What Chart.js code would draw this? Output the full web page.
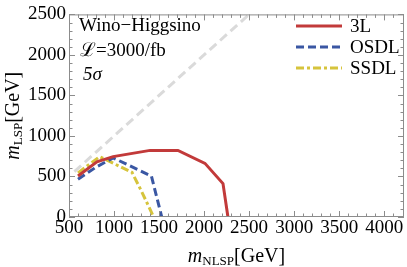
<!DOCTYPE html>
<html>
<head>
  <meta charset="UTF-8">
  <title>Wino-Higgsino 5 sigma reach</title>
  <script src="https://cdn.jsdelivr.net/npm/chart.js"></script>
  <style>
    body { margin: 0; padding: 0; background: #fff; }
    canvas { display: block; }
  </style>
</head>
<body>
<canvas id="reach" width="407" height="267"></canvas>
<script>
  // values (GeV)
  const x3L = [600, 810, 990, 1400, 1710, 2010, 2210, 2265];
  const y3L = [505, 680, 745, 822, 822, 662, 412, 0];
  const xOSDL = [600, 800, 990, 1415, 1530];
  const yOSDL = [465, 615, 730, 505, 0];
  const xSSDL = [600, 840, 1200, 1300, 1440];
  const ySSDL = [545, 745, 550, 330, 0];
  const xDiag = [560, 2600];
  const yDiag = [560, 2600];

  const xMin = 500, xMax = 4220;
  const yMin = 0, yMax = 2500;
  const labelTexts = ["Wino\u2212Higgsino", "\u2112=3000/fb", "5\u03c3"];

  const SERIF = '"Liberation Serif", "Times New Roman", serif';
  const toPts = (xs, ys) => xs.map((x, i) => ({ x: x, y: ys[i] }));

  // frame + inward ticks on all four sides, like Mathematica
  const frameTicks = {
    id: 'frameTicks',
    afterDatasetsDraw(chart) {
      const { ctx, chartArea: a, scales } = chart;
      ctx.save();
      ctx.strokeStyle = '#8c8c8c';
      ctx.lineWidth = 1;
      ctx.strokeRect(a.left + 0.5, a.top + 0.5, a.right - a.left - 1, a.bottom - a.top - 1);
      ctx.beginPath();
      scales.x.ticks.forEach(t => {
        if (t.value > xMax - 1) return;
        const px = Math.round(scales.x.getPixelForValue(t.value)) + 0.5;
        const len = t.value % 500 === 0 ? 6 : 3.5;
        ctx.moveTo(px, a.bottom); ctx.lineTo(px, a.bottom - len);
        ctx.moveTo(px, a.top); ctx.lineTo(px, a.top + len);
      });
      scales.y.ticks.forEach(t => {
        const py = Math.round(scales.y.getPixelForValue(t.value)) + 0.5;
        const len = t.value % 500 === 0 ? 6 : 3.5;
        ctx.moveTo(a.left, py); ctx.lineTo(a.left + len, py);
        ctx.moveTo(a.right, py); ctx.lineTo(a.right - len, py);
      });
      ctx.stroke();
      ctx.restore();
    }
  };

  // axis titles, annotation text and legend
  const texts = {
    id: 'texts',
    afterDraw(chart) {
      const { ctx, chartArea: a } = chart;
      ctx.save();
      ctx.fillStyle = '#000';
      ctx.textBaseline = 'alphabetic';

      // top-left annotation
      ctx.font = '19px ' + SERIF;
      ctx.textAlign = 'left';
      ctx.fillText(labelTexts[0], 79, 31);
      ctx.fillText(labelTexts[1], 80, 56);
      ctx.font = 'italic 19px ' + SERIF;
      ctx.fillText('5', 83, 80);
      ctx.fillText('\u03c3', 83 + ctx.measureText('5').width, 80);

      // legend
      const ds = chart.data.datasets.filter(d => d.label);
      ds.forEach((d, i) => {
        const y = 26 + i * 21;
        ctx.save();
        ctx.strokeStyle = d.borderColor;
        ctx.lineWidth = d.borderWidth;
        ctx.setLineDash(d.borderDash || []);
        ctx.beginPath();
        ctx.moveTo(296, y); ctx.lineTo(342, y);
        ctx.stroke();
        ctx.restore();
        ctx.font = '19px ' + SERIF;
        ctx.fillText(d.label, 350, y + 6);
      });

      // axis title helper: italic m, small-caps subscript, [GeV]
      function title(sub, cx, baseY) {
        ctx.font = 'italic 20px ' + SERIF;
        const wm = ctx.measureText('m').width;
        ctx.font = '13px ' + SERIF;
        const ws = ctx.measureText(sub).width;
        ctx.font = '20px ' + SERIF;
        const wg = ctx.measureText('[GeV]').width;
        let x = cx - (wm + ws + wg) / 2;
        ctx.textAlign = 'left';
        ctx.font = 'italic 20px ' + SERIF;
        ctx.fillText('m', x, baseY); x += wm;
        ctx.font = '13px ' + SERIF;
        ctx.fillText(sub, x, baseY + 3); x += ws;
        ctx.font = '20px ' + SERIF;
        ctx.fillText('[GeV]', x, baseY);
      }
      title('NLSP', (a.left + a.right) / 2, 262);
      ctx.save();
      ctx.translate(19, (a.top + a.bottom) / 2);
      ctx.rotate(-Math.PI / 2);
      title('LSP', 0, 0);
      ctx.restore();
      ctx.restore();
    }
  };

  new Chart(document.getElementById('reach'), {
    type: 'line',
    data: {
      datasets: [
        {
          data: toPts(xDiag, yDiag),
          borderColor: '#dadada',
          borderWidth: 3,
          borderDash: [9, 5]
        },
        {
          label: '3L',
          data: toPts(x3L, y3L),
          borderColor: '#c23a3a',
          borderWidth: 3
        },
        {
          label: 'OSDL',
          data: toPts(xOSDL, yOSDL),
          borderColor: '#3a57a3',
          borderWidth: 3,
          borderDash: [8, 4]
        },
        {
          label: 'SSDL',
          data: toPts(xSSDL, ySSDL),
          borderColor: '#d6c43c',
          borderWidth: 3,
          borderDash: [8, 3, 3, 3]
        }
      ]
    },
    options: {
      responsive: false,
      animation: false,
      devicePixelRatio: 1,
      layout: { padding: { left: 0, right: 3, top: 11, bottom: 0 } },
      elements: { point: { radius: 0 }, line: { tension: 0 } },
      plugins: { legend: { display: false }, tooltip: { enabled: false } },
      scales: {
        x: {
          type: 'linear',
          min: xMin,
          max: xMax,
          grid: { display: false, drawTicks: false },
          border: { display: false },
          afterFit: s => { s.height = 50; },
          ticks: {
            stepSize: 100,
            autoSkip: false,
            maxRotation: 0,
            padding: 0,
            color: '#000',
            font: { family: SERIF, size: 19 },
            callback: v => (v % 500 === 0 ? String(v) : '')
          }
        },
        y: {
          min: yMin,
          max: yMax,
          grid: { display: false, drawTicks: false },
          border: { display: false },
          afterFit: s => { s.width = 69; },
          ticks: {
            stepSize: 100,
            autoSkip: false,
            padding: 3,
            color: '#000',
            font: { family: SERIF, size: 19 },
            callback: v => (v % 500 === 0 ? String(v) : '')
          }
        }
      }
    },
    plugins: [frameTicks, texts]
  });
</script>
</body>
</html>
